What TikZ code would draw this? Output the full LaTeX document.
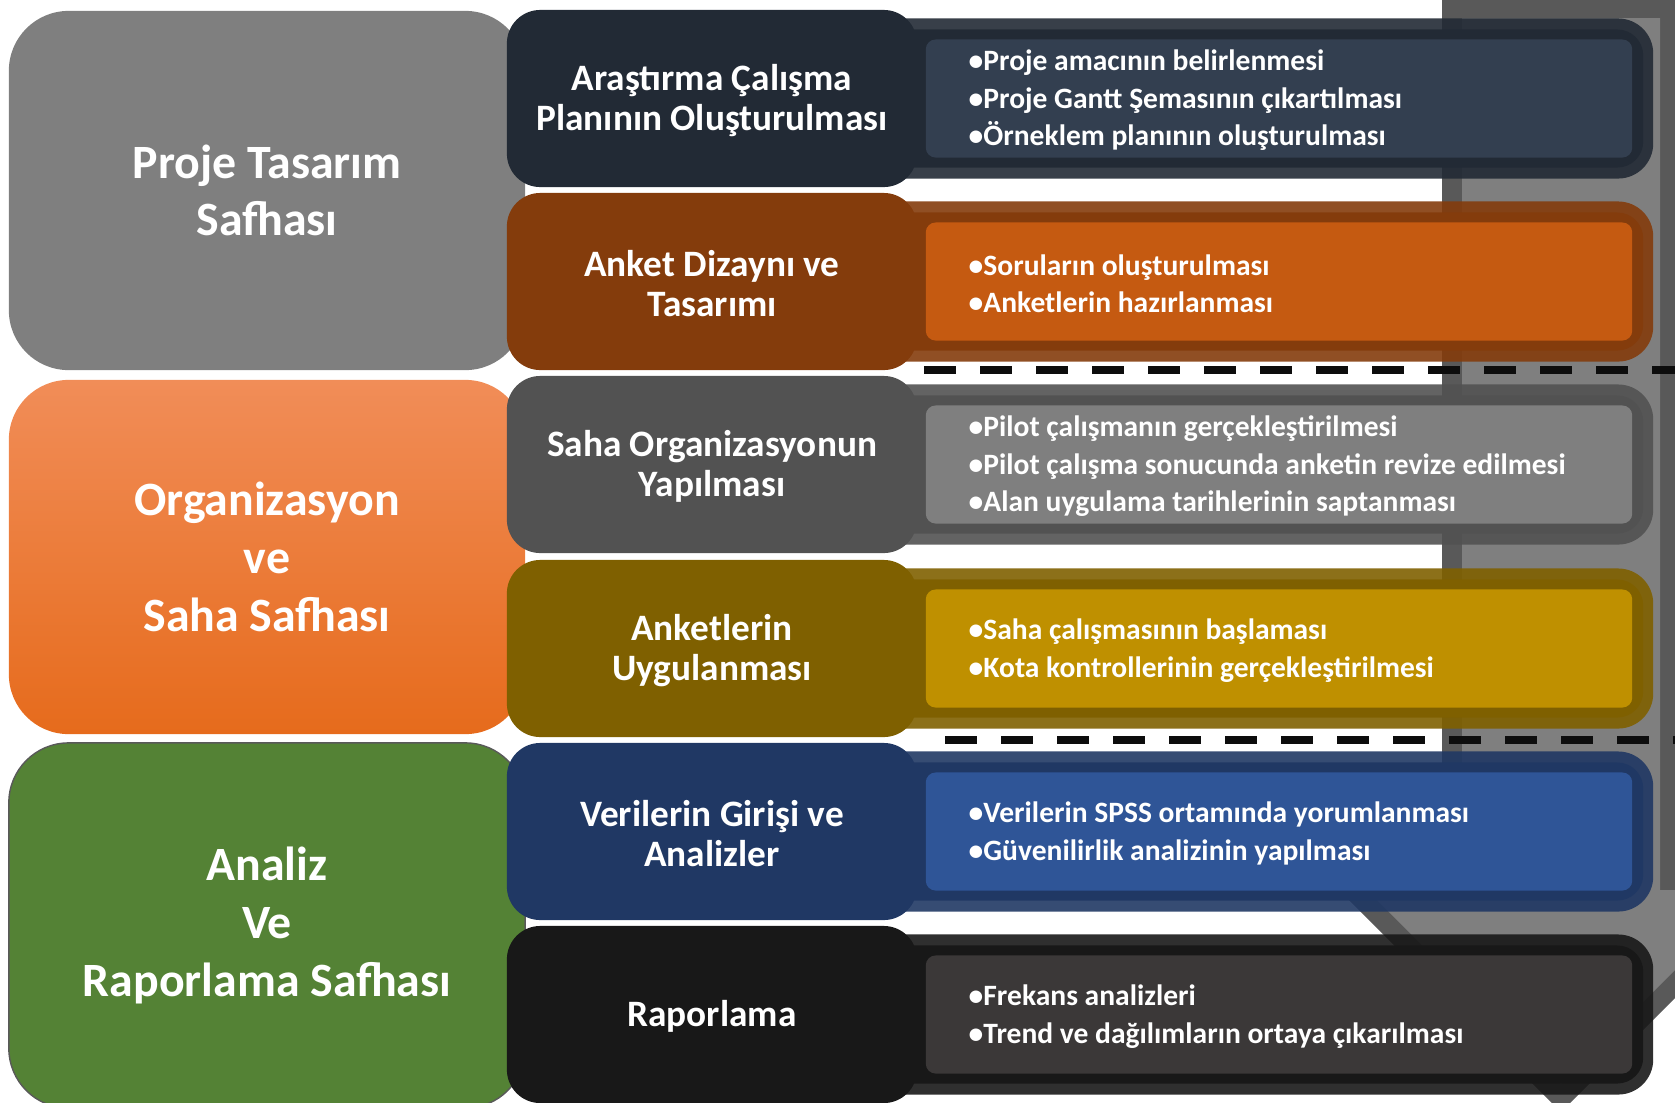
\documentclass[tikz,border=0pt]{standalone}
\usepackage{fontspec}
\setmainfont{Carlito}
\definecolor{arrowdark}{HTML}{595959}
\definecolor{arrowlight}{HTML}{7F7F7F}
\definecolor{lgray}{HTML}{7F7F7F}
\definecolor{lorangetop}{HTML}{F18D58}
\definecolor{lorangebot}{HTML}{E66B1C}
\definecolor{lgreen}{HTML}{548235}
\definecolor{cA}{HTML}{222A35}\definecolor{fA}{HTML}{333F50}
\definecolor{cB}{HTML}{843C0C}\definecolor{fB}{HTML}{C55A11}
\definecolor{cC}{HTML}{525252}\definecolor{fC}{HTML}{7F7F7F}
\definecolor{cD}{HTML}{7F6000}\definecolor{fD}{HTML}{BF9000}
\definecolor{cE}{HTML}{203864}\definecolor{fE}{HTML}{2F5597}
\definecolor{cF}{HTML}{181818}\definecolor{fF}{HTML}{3B3838}
\definecolor{dashcol}{HTML}{0D0D0D}
\newcommand\lefttxt{\fontsize{13.6}{16.4}\selectfont\bfseries}
\newcommand\midtxt{\fontsize{10.6}{11.55}\selectfont\bfseries}
\newcommand\righttxt{\fontsize{8.4}{10.64}\selectfont\bfseries}
\begin{document}
\begin{tikzpicture}[x=0.01cm,y=-0.01cm,
  phasebox/.style={rectangle, rounded corners=17pt, inner sep=0pt, minimum width=5.16cm, text=white, align=center, font=\lefttxt},
  stepbox/.style={rectangle, rounded corners=9.5pt, inner sep=0pt, minimum width=4.1cm, minimum height=1.77cm, text=white, align=center, font=\midtxt},
  steptext/.style={inner sep=0pt, text=white, align=center, font=\midtxt},
  outerring/.style={rectangle, rounded corners=10pt, inner sep=0pt, minimum width=8.03cm, minimum height=1.6cm, fill opacity=0.9},
  innerring/.style={rectangle, rounded corners=7.4pt, inner sep=0pt, minimum width=7.93cm, minimum height=1.38cm},
  detailbox/.style={rectangle, rounded corners=2.8pt, inner sep=0pt, minimum width=7.06cm, minimum height=1.18cm},
  detailtext/.style={anchor=west, inner sep=0pt, text=white, align=left, font=\righttxt},
  sepline/.style={draw=dashcol, line width=2.28pt, dash pattern=on 9.1pt off 6.83pt}
]
\useasboundingbox (0,0) rectangle (1675,1102);
\begin{scope}
\clip (0,0) rectangle (1675,1102);
% left phase boxes
\node[phasebox, fill=lgray, minimum height=3.59cm] (p1) at (267,190.5) {Proje Tasarım\\Safhası};
\node[phasebox, top color=lorangetop, bottom color=lorangebot, minimum height=3.54cm] (p2) at (267,557) {Organizasyon\\ve\\Saha Safhası};
\node[phasebox, fill=lgreen, draw=arrowdark, line width=0.4pt, minimum height=3.65cm] (p3) at (267,925.5) {Analiz\\Ve\\Raporlama Safhası};
% background arrow
\fill[arrowdark] (1442,-5) -- (1442,870) -- (1319,870) -- (1561,1112) -- (1803,870) -- (1680,870) -- (1680,-5) -- cycle;
\fill[arrowlight] (1462,18) -- (1462,890) -- (1367,890) -- (1561,1084) -- (1755,890) -- (1660,890) -- (1660,18) -- cycle;
% right detail boxes
\foreach \i/\yc/\c/\f in {1/98.5/cA/fA, 2/281.5/cB/fB, 3/464.5/cC/fC, 4/648.5/cD/fD, 5/831.5/cE/fE, 6/1014.5/cF/fF}{
  \node[outerring, fill=\c] (o\i) at (1251.5,\yc) {};
  \node[innerring, fill=\c] (r\i) at (1246.5,\yc) {};
  \node[detailbox, fill=\f] (d\i) at (1279,\yc) {};
}
% step boxes
\foreach \i/\yc/\c in {1/98.5/cA, 2/281.5/cB, 3/464.5/cC, 4/648.5/cD, 5/831.5/cE, 6/1014.5/cF}{
  \node[stepbox, fill=\c] (s\i) at (712,\yc) {};
}
\node[steptext] (u1) at (712,100.5) {Araştırma Çalışma\\Planının Oluşturulması};
\node[steptext] (u2) at (712,283.5) {Anket Dizaynı ve\\Tasarımı};
\node[steptext] (u3) at (712,466.5) {Saha Organizasyonun\\Yapılması};
\node[steptext] (u4) at (712,650.5) {Anketlerin\\Uygulanması};
\node[steptext] (u5) at (712,833.5) {Verilerin Girişi ve\\Analizler};
\node[steptext] (u6) at (712,1016.5) {Raporlama};
% separators
\coordinate (a1) at (924,370);
\coordinate (b1) at (1700,370);
\coordinate (a2) at (945,740);
\coordinate (b2) at (1700,740);
\draw[sepline] (a1) -- (b1);
\draw[sepline] (a2) -- (b2);
% detail texts
\node[detailtext] (t1) at (968,100.5) {•Proje amacının belirlenmesi\\•Proje Gantt Şemasının çıkartılması\\•Örneklem planının oluşturulması};
\node[detailtext] (t2) at (968,283.5) {•Soruların oluşturulması\\•Anketlerin hazırlanması};
\node[detailtext] (t3) at (968,466.5) {•Pilot çalışmanın gerçekleştirilmesi\\•Pilot çalışma sonucunda anketin revize edilmesi\\•Alan uygulama tarihlerinin saptanması};
\node[detailtext] (t4) at (968,650.5) {•Saha çalışmasının başlaması\\•Kota kontrollerinin gerçekleştirilmesi};
\node[detailtext] (t5) at (968,833.5) {•Verilerin SPSS ortamında yorumlanması\\•Güvenilirlik analizinin yapılması};
\node[detailtext] (t6) at (968,1016.5) {•Frekans analizleri\\•Trend ve dağılımların ortaya çıkarılması};
\end{scope}
\end{tikzpicture}
\end{document}
